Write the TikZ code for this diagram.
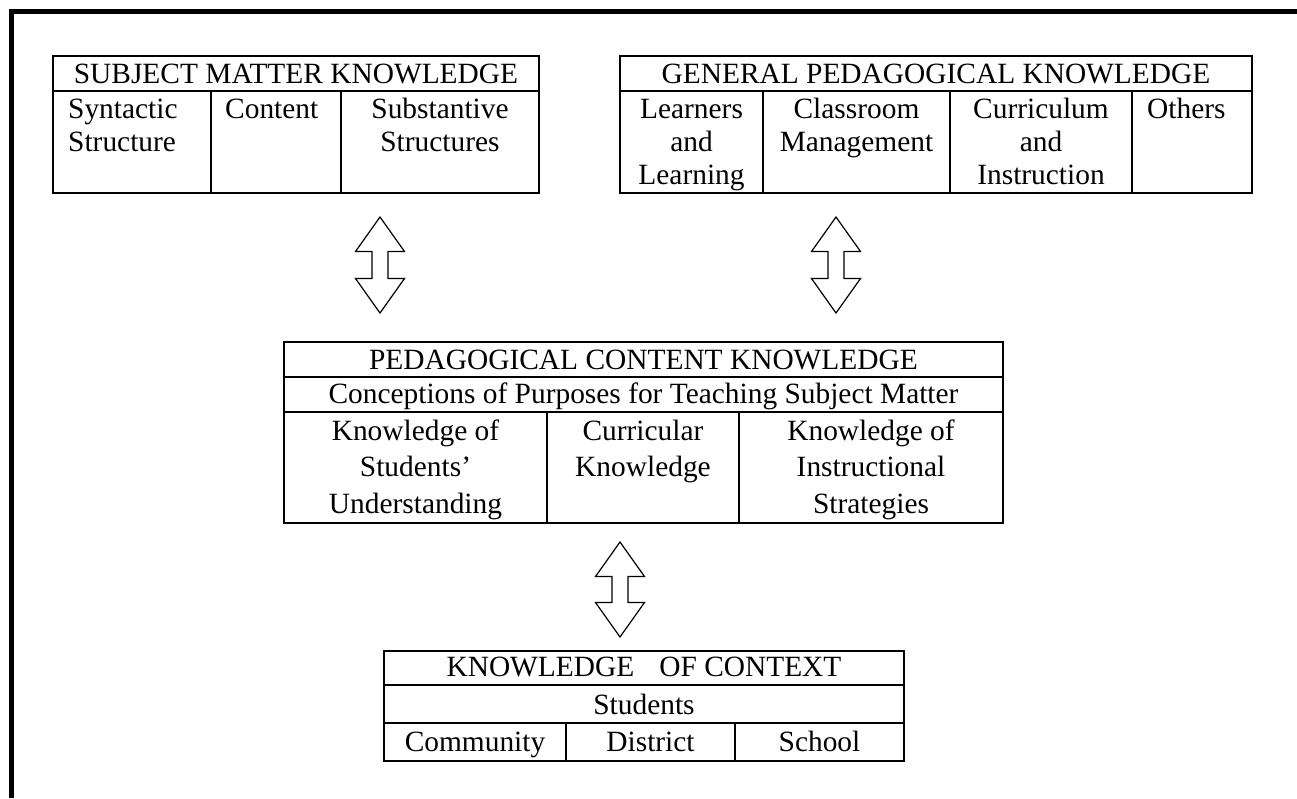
\documentclass[tikz,border=0pt]{standalone}
\usepackage{fontspec}
\setmainfont{Liberation Serif}
\newcommand\mlc[1]{\begin{tabular}[t]{@{}c@{}}#1\end{tabular}}
\newcommand\mll[1]{\begin{tabular}[t]{@{}l@{}}#1\end{tabular}}
\newcommand\vdblarrow[4]{%
  \draw[dblarrow] (#2,#3)
    -- ({#2+24.5},{#3+34.5}) -- ({#2+8},{#3+34.5}) -- ({#2+8},{#4-34.5})
    -- ({#2+24.5},{#4-34.5}) -- (#2,#4) -- ({#2-24.5},{#4-34.5})
    -- ({#2-8},{#4-34.5}) -- ({#2-8},{#3+34.5}) -- ({#2-24.5},{#3+34.5}) -- cycle;
  \coordinate (#1-top) at (#2,#3);
  \coordinate (#1-bot) at (#2,#4);}
\begin{document}
\begin{tikzpicture}[x=1pt,y=-1pt,
  box/.style={draw, line width=2pt, inner sep=0pt},
  rule/.style={line width=2pt},
  txt/.style={inner sep=0pt, anchor=base, font=\fontsize{29.4pt}{33.3pt}\selectfont},
  txtp/.style={txt, font=\fontsize{29.4pt}{36.7pt}\selectfont},
  dblarrow/.style={draw, line width=1.2pt, line join=miter, fill=white}]
\useasboundingbox (0,0) rectangle (1297,798);
% frame
\draw[line width=5pt, line join=miter] (11.5,798) -- (11.5,11.5) -- (1297,11.5);

% SUBJECT MATTER KNOWLEDGE
\node[box, minimum width=486pt, minimum height=137pt] (smk) at (296,124.5) {};
\draw[rule] (53,91) -- (539,91) (211,91) -- (211,193) (341,91) -- (341,193);
\node[txt] (smkh) at (296,83.3) {SUBJECT MATTER KNOWLEDGE};
\node[txt, anchor=base west] (smk1) at (68,118.3) {\mll{Syntactic\\Structure}};
\node[txt, anchor=base west] (smk2) at (225,118.3) {Content};
\node[txt] (smk3) at (440,118.3) {\mlc{Substantive\\Structures}};

% GENERAL PEDAGOGICAL KNOWLEDGE
\node[box, minimum width=632pt, minimum height=137pt] (gpk) at (936,124.5) {};
\draw[rule] (620,91) -- (1252,91) (763,91) -- (763,193) (950,91) -- (950,193) (1132,91) -- (1132,193);
\node[txt] (gpkh) at (936,83.3) {GENERAL PEDAGOGICAL KNOWLEDGE};
\node[txt] (gpk1) at (691.5,118.3) {\mlc{Learners\\and\\Learning}};
\node[txt] (gpk2) at (856.5,118.3) {\mlc{Classroom\\Management}};
\node[txt] (gpk3) at (1041,118.3) {\mlc{Curriculum\\and\\Instruction}};
\node[txt, anchor=base west] (gpk4) at (1147,118.3) {Others};

% PEDAGOGICAL CONTENT KNOWLEDGE
\node[box, minimum width=719pt, minimum height=181pt] (pck) at (643.5,432.5) {};
\draw[rule] (284,377) -- (1003,377) (284,412) -- (1003,412) (547,412) -- (547,523) (739,412) -- (739,523);
\node[txt] (pckh) at (643.5,369.3) {PEDAGOGICAL CONTENT KNOWLEDGE};
\node[txt] (pck0) at (643.5,403.3) {Conceptions of Purposes for Teaching Subject Matter};
\node[txtp] (pck1) at (415.5,440) {\mlc{Knowledge of\\Students’\\Understanding}};
\node[txtp] (pck2) at (643,440) {\mlc{Curricular\\Knowledge}};
\node[txtp] (pck3) at (871,440) {\mlc{Knowledge of\\Instructional\\Strategies}};

% KNOWLEDGE OF CONTEXT
\node[box, minimum width=520pt, minimum height=110pt] (koc) at (644,706) {};
\draw[rule] (384,685) -- (904,685) (384,723) -- (904,723) (566,723) -- (566,761) (735,723) -- (735,761);
\node[txt] (koch) at (644,676.7) {KNOWLEDGE\hspace{25pt}OF CONTEXT};
\node[txt] (koc0) at (644,714) {Students};
\node[txt] (koc1) at (475,751.7) {Community};
\node[txt] (koc2) at (650.5,751.7) {District};
\node[txt] (koc3) at (819.5,751.7) {School};

% double arrows
\vdblarrow{a1}{380}{217}{313}
\vdblarrow{a2}{836}{217}{313}
\vdblarrow{a3}{620}{542}{637}
\end{tikzpicture}
\end{document}
